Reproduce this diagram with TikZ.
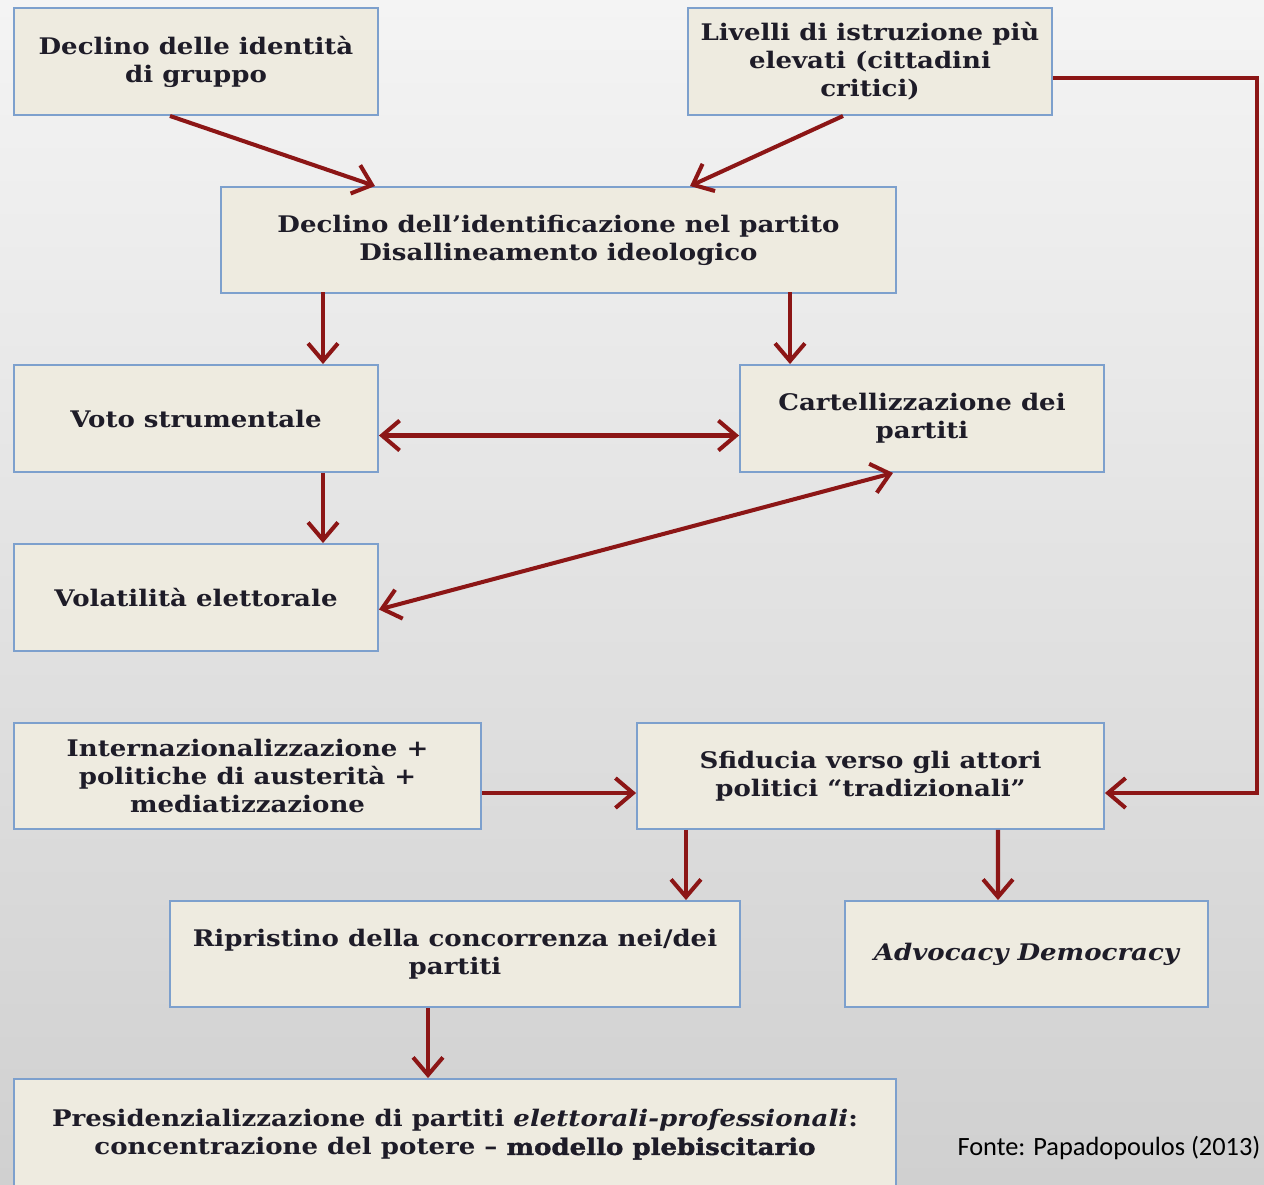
\documentclass[tikz,border=0pt]{standalone}
\usepackage{fontspec}
\setmainfont[FakeStretch=1.14]{DejaVu Serif}
\newfontfamily\heavyfont[FakeStretch=1.14, BoldFeatures={FakeBold=1.6}]{DejaVu Serif}
\newfontfamily\captionfont{Carlito}
\usetikzlibrary{arrows.meta,calc}
\definecolor{boxfill}{RGB}{238,235,224}
\definecolor{boxline}{RGB}{125,160,205}
\definecolor{arrowred}{RGB}{140,22,22}
\definecolor{bgtop}{RGB}{244,244,244}
\definecolor{bgbottom}{RGB}{208,208,208}
\definecolor{textdark}{RGB}{30,28,40}
\tikzstyle{causebox}=[draw=boxline, line width=1.1pt, fill=boxfill, inner sep=0pt, align=center, text=textdark, font=\fontsize{13}{16}\selectfont\bfseries]
\tikzstyle{link}=[draw=arrowred, line width=2.3pt, -{Straight Barb[length=10pt,width=17pt]}]
\tikzstyle{duallink}=[link, {Straight Barb[length=10pt,width=17pt]}-{Straight Barb[length=10pt,width=17pt]}]

\begin{document}
\begin{tikzpicture}[x=0.02cm, y=-0.02cm]
            \shade[top color=bgtop, bottom color=bgbottom] (0,0) rectangle (1264,1184);
            \useasboundingbox (0,0) rectangle (1264,1184);

            \node[causebox, minimum width=7.28cm, minimum height=2.14cm] (gruppo) at (196,61.5)
                {Declino delle identità\\di gruppo};
            \node[causebox, minimum width=7.28cm, minimum height=2.14cm] (istruzione) at (870,61.5)
                {Livelli di istruzione più\\elevati (cittadini\\critici)};
            \node[causebox, minimum width=13.5cm, minimum height=2.12cm] (identificazione) at (558.5,240)
                {Declino dell’identificazione nel partito\\Disallineamento ideologico};
            \node[causebox, minimum width=7.28cm, minimum height=2.14cm] (voto) at (196,418.5)
                {Voto strumentale};
            \node[causebox, minimum width=7.28cm, minimum height=2.14cm] (cartello) at (922,418.5)
                {Cartellizzazione dei\\partiti};
            \node[causebox, minimum width=7.28cm, minimum height=2.14cm] (volatilita) at (196,597.5)
                {Volatilità elettorale};
            \node[causebox, minimum width=9.34cm, minimum height=2.12cm] (internaz) at (247.5,776)
                {Internazionalizzazione +\\politiche di austerità +\\mediatizzazione};
            \node[causebox, minimum width=9.34cm, minimum height=2.12cm] (sfiducia) at (870.5,776)
                {Sfiducia verso gli attori\\politici “tradizionali”};
            \node[causebox, minimum width=11.4cm, minimum height=2.12cm] (ripristino) at (455,954)
                {Ripristino della concorrenza nei/dei\\partiti};
            \node[causebox, minimum width=7.26cm, minimum height=2.12cm] (advocacy) at (1026.5,954)
                {\itshape Advocacy Democracy};
            \node[causebox, minimum width=17.64cm, minimum height=2.22cm] (presid) at (455,1134.5)
                {Presidenzializzazione di partiti \textit{elettorali-professionali}:\\concentrazione del potere – {\heavyfont\bfseries modello plebiscitario}};
            \node[font=\captionfont\fontsize{15}{17}\selectfont, inner sep=0pt] (fonte) at (1109,1148)
                {Fonte: Papadopoulos (2013)};

            \draw[link] ($(gruppo.south)+(-26,0)$) -- ($(identificazione.north)+(-183.5,0)$);
            \draw[link] ($(istruzione.south)+(-27,0)$) -- ($(identificazione.north)+(131.5,0)$);
            \draw[link] ($(voto.north)+(127,0)$) ++(0,-72) -- ($(voto.north)+(127,0)$);
            \draw[link] ($(cartello.north)+(-132,0)$) ++(0,-72) -- ($(cartello.north)+(-132,0)$);
            \draw[duallink] ($(voto.east)+(0,17)$) -- ($(cartello.west)+(0,17)$);
            \draw[link] ($(voto.south)+(127,0)$) -- ($(volatilita.north)+(127,0)$);
            \draw[duallink] ($(cartello.south)+(-29,0)$) -- ($(volatilita.east)+(0,12)$);
            \draw[link] ($(internaz.east)+(0,17)$) -- ($(sfiducia.west)+(0,17)$);
            \draw[link] ($(istruzione.east)+(0,16.5)$) -| ($(sfiducia.east)+(152,17)$) -- ($(sfiducia.east)+(0,17)$);
            \draw[link] ($(sfiducia.south)+(-184.5,0)$) -- ($(ripristino.north)+(231,0)$);
            \draw[link] ($(sfiducia.south)+(127.5,0)$) -- ($(advocacy.north)+(-28.5,0)$);
            \draw[link] ($(ripristino.south)+(-27,0)$) -- ($(presid.north)+(-27,0)$);
        \end{tikzpicture}
\end{document}
